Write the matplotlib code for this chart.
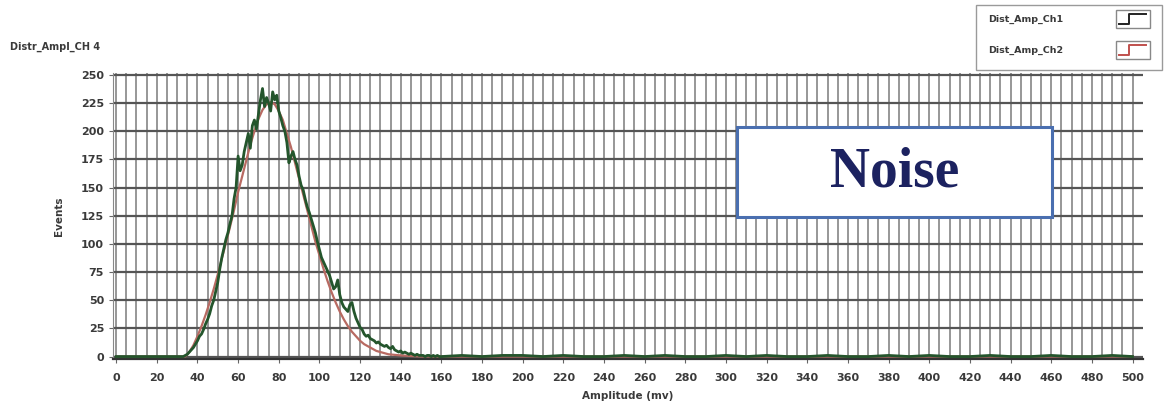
import numpy as np
import matplotlib
matplotlib.use("Agg")
import matplotlib.pyplot as plt
from matplotlib.patches import Rectangle
from matplotlib.lines import Line2D

# Channel 1: event counts per amplitude bin (mV)
ch1_head_amp = [0, 10, 20, 30]
ch1_head_cnt = [0, 0, 0, 0]
ch1_core_cnt = [
    0, 1, 2, 4, 6, 8, 11, 14, 18, 20, 24, 29, 33, 38, 45, 50, 58, 66, 78, 88,
    96, 104, 110, 118, 125, 140, 150, 178,
    165, 170, 182, 190, 198, 185, 205, 210, 202, 215, 228, 238, 222, 230, 225,
    218, 235, 228, 232, 218, 212, 205, 200, 190, 172, 178, 182, 175, 170, 160,
    152, 148, 140, 133, 128, 122, 116, 110, 102, 95, 88, 84, 80, 76, 72, 66,
    60, 62, 68, 55, 48, 44, 42, 40, 46, 48, 40, 34, 30, 26,
    24, 20, 18, 19, 16, 15, 14, 12, 13, 11, 10, 9, 10, 8, 7, 9, 6, 5, 4, 5,
    3, 4, 3, 2, 3, 2, 1, 2, 1, 1, 1, 0, 1, 1, 0, 1, 0, 1, 0, 0,
]
ch1_tail_cnt = [
    1, 0, 1, 1, 0, 1, 0, 0, 1, 0, 1, 0, 0, 1, 0, 1, 0, 0, 1, 0,
    0, 1, 0, 1, 0, 0, 1, 0, 0, 1, 0, 0, 1, 0,
]

# Channel 2: smoother distribution
ch2_amp = [0, 34, 36, 38, 40, 42, 44, 46, 48, 50, 52, 54, 56, 58, 60, 62, 64,
           66, 68, 70, 72, 74, 76, 78, 80, 82, 84, 86, 88, 90, 92, 94, 96, 98,
           100, 102, 104, 106, 108, 110, 112, 114, 116, 118, 120, 122, 124,
           126, 128, 130, 134, 140, 150, 500]
ch2_cnt = [0, 0, 4, 10, 18, 27, 37, 48, 60, 73, 87, 101, 115, 130, 146, 160,
           174, 188, 200, 211, 219, 224, 226, 224, 218, 210, 198, 186, 172,
           158, 144, 130, 116, 102, 90, 78, 67, 57, 48, 40, 33, 27, 22, 18, 14,
           11, 9, 7, 5, 4, 2, 1, 0, 0]

x_ticks = list(range(0, 501, 20))
y_ticks = list(range(0, 251, 25))

ch1_amp = (ch1_head_amp
           + list(np.arange(33, 33 + len(ch1_core_cnt)))
           + list(np.arange(170, 170 + 10 * len(ch1_tail_cnt), 10)))
ch1_cnt = ch1_head_cnt + ch1_core_cnt + ch1_tail_cnt

label_color = "#3a3a3a"
green = "#24552c"
red = "#b86a62"

fig = plt.figure(figsize=(11.66, 4.11), dpi=100)
ax = fig.add_axes([0.097, 0.127, 0.883, 0.696])

ax.set_xlim(-1.5, 505)
ax.set_ylim(-2, 252)

# dense vertical grid every 5 mV, horizontal grid every 25 events
for xv in range(0, 505, 5):
    ax.axvline(xv, color="#7a7a7a", lw=1.1, zorder=0)
for yv in y_ticks:
    ax.axhline(yv, color="#555555", lw=1.6, zorder=0.5)

ax.plot(ch2_amp, ch2_cnt, color=red, lw=1.6, zorder=2)
ax.plot(ch1_amp, ch1_cnt, color=green, lw=2.0, zorder=3)

ax.set_xticks(x_ticks)
ax.set_yticks(y_ticks)
ax.tick_params(axis="both", labelsize=8, colors="#666666", length=3,
               width=0.8, labelcolor=label_color)
ax.tick_params(axis="x", pad=7)
for lab in ax.get_xticklabels() + ax.get_yticklabels():
    lab.set_fontweight("bold")

for side in ["top", "right"]:
    ax.spines[side].set_visible(False)
ax.spines["left"].set_color("#888888")
ax.spines["bottom"].set_color("#333333")
ax.spines["bottom"].set_linewidth(1.6)

ax.set_xlabel("Amplitude (mv)", fontsize=7.5, fontweight="bold",
              color=label_color, labelpad=6)
ax.set_ylabel("Events", fontsize=7.5, fontweight="bold",
              color=label_color, labelpad=12)

fig.text(0.009, 0.886, "Distr_Ampl_CH 4", fontsize=7, fontweight="bold",
         color=label_color, va="center", ha="left")

# annotation box
ax.add_patch(Rectangle((0.606, 0.497), 0.306, 0.314, transform=ax.transAxes,
                       facecolor="white", edgecolor="#4a6fb0", lw=2.2,
                       zorder=5))
ax.text(0.759, 0.652, "Noise", transform=ax.transAxes, ha="center",
        va="center", fontsize=40, fontweight="bold", color="#1c2260",
        family="Liberation Serif", zorder=6)

# legend panel
fig.patches.append(Rectangle((976 / 1166, 1 - 70 / 411), 186 / 1166,
                             65 / 411, transform=fig.transFigure,
                             facecolor="white", edgecolor="#9a9a9a", lw=1.0))
legend_rows = [("Dist_Amp_Ch1", "#222222", 19), ("Dist_Amp_Ch2", "#c0504d", 50)]
for name, col, ypx in legend_rows:
    fig.text(988 / 1166, 1 - ypx / 411, name, fontsize=6.8, fontweight="bold",
             color=label_color, va="center", ha="left")
    fig.patches.append(Rectangle((1116 / 1166, 1 - (ypx + 9) / 411),
                                 34 / 1166, 18 / 411,
                                 transform=fig.transFigure, facecolor="white",
                                 edgecolor="#888888", lw=1.0))
    xs = np.array([1119, 1129, 1129, 1146]) / 1166
    ys = 1 - np.array([ypx + 5, ypx + 5, ypx - 5, ypx - 5]) / 411
    fig.lines.append(Line2D(xs, ys, transform=fig.transFigure, color=col,
                            lw=1.4))

fig.savefig("out.png", dpi=100)
